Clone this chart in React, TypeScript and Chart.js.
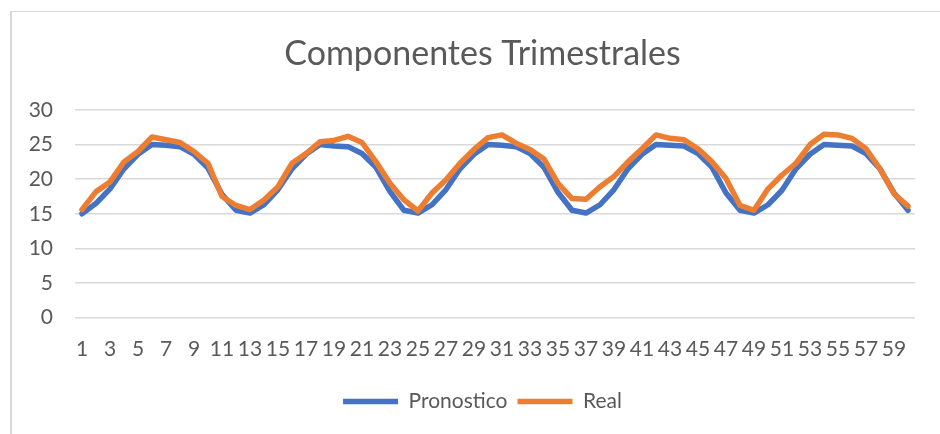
import { useEffect, useRef } from "react";
import { Chart, registerables } from "chart.js";

Chart.register(...registerables);

const categories = [
  "1", "2", "3", "4", "5", "6", "7", "8", "9", "10",
  "11", "12", "13", "14", "15", "16", "17", "18", "19", "20",
  "21", "22", "23", "24", "25", "26", "27", "28", "29", "30",
  "31", "32", "33", "34", "35", "36", "37", "38", "39", "40",
  "41", "42", "43", "44", "45", "46", "47", "48", "49", "50",
  "51", "52", "53", "54", "55", "56", "57", "58", "59", "60",
];

const pronostico = [
  15.0, 16.5, 18.6, 21.5, 23.6, 25.0, 24.9, 24.7, 23.6, 21.6, 17.8, 15.5,
  15.1, 16.3, 18.5, 21.5, 23.6, 25.0, 24.8, 24.7, 23.7, 21.7, 18.2, 15.5,
  15.1, 16.3, 18.5, 21.5, 23.6, 25.0, 24.9, 24.7, 23.7, 21.7, 18.1, 15.5,
  15.1, 16.3, 18.5, 21.5, 23.6, 25.0, 24.9, 24.8, 23.7, 21.7, 18.0, 15.5,
  15.1, 16.3, 18.4, 21.5, 23.6, 25.0, 24.9, 24.8, 23.7, 21.5, 18.0, 15.5,
];

const real = [
  15.6, 18.2, 19.6, 22.5, 24.0, 26.1, 25.7, 25.3, 24.0, 22.3, 17.5, 16.2,
  15.6, 17.0, 18.9, 22.3, 23.7, 25.4, 25.6, 26.2, 25.3, 22.5, 19.4, 17.0,
  15.4, 18.0, 19.9, 22.3, 24.3, 26.0, 26.4, 25.2, 24.3, 22.9, 19.4, 17.2,
  17.1, 18.9, 20.4, 22.5, 24.4, 26.4, 25.9, 25.7, 24.4, 22.5, 20.1, 16.2,
  15.5, 18.6, 20.6, 22.3, 25.0, 26.5, 26.4, 25.9, 24.4, 21.5, 17.9, 16.1,
];

const yTicks = [0, 5, 10, 15, 20, 25, 30];

const TEXT = "#595959";
const FONT = "Lato";

export default function App() {
  const ref = useRef<HTMLCanvasElement>(null);

  useEffect(() => {
    if (!ref.current) return;
    const chart = new Chart(ref.current, {
      type: "line",
      data: {
        labels: categories,
        datasets: [
          {
            label: "Pronostico",
            data: pronostico,
            borderColor: "#4472C4",
            backgroundColor: "#4472C4",
            borderWidth: 5.5,
            pointRadius: 0,
            tension: 0,
            borderJoinStyle: "round",
            borderCapStyle: "round",
            order: 1,
          },
          {
            label: "Real",
            data: real,
            borderColor: "#ED7D31",
            backgroundColor: "#ED7D31",
            borderWidth: 5.5,
            pointRadius: 0,
            tension: 0,
            borderJoinStyle: "round",
            borderCapStyle: "round",
            order: 0,
          },
        ],
      },
      options: {
        animation: false,
        responsive: false,
        events: [],
        layout: { padding: { left: 50, right: 25, top: 0, bottom: 12 } },
        plugins: {
          title: {
            display: true,
            text: "Componentes Trimestrales",
            color: TEXT,
            font: { family: FONT, size: 34, weight: "normal", lineHeight: 1.2 },
            padding: { top: 34, bottom: 35.2 },
          },
          legend: {
            position: "bottom",
            labels: {
              usePointStyle: true,
              pointStyle: "line",
              pointStyleWidth: 55,
              color: TEXT,
              font: { family: FONT, size: 21 },
              padding: 10,
              sort: (a: any, b: any) => a.datasetIndex - b.datasetIndex,
            },
          },
          tooltip: { enabled: false },
        },
        scales: {
          x: {
            offset: true,
            grid: { display: false },
            border: { display: false },
            ticks: {
              autoSkip: false,
              maxRotation: 0,
              minRotation: 0,
              color: TEXT,
              font: { family: FONT, size: 21 },
              padding: 11,
              callback: (_v: any, i: number) => (i % 2 === 0 ? categories[i] : ""),
            },
            afterFit: (s: any) => {
              s.height = 63.5;
            },
          },
          y: {
            min: 0,
            max: 30,
            afterBuildTicks: (s: any) => {
              s.ticks = yTicks.map((v) => ({ value: v }));
            },
            grid: { color: "#d9d9d9", lineWidth: 1.5, drawTicks: false },
            border: { display: false },
            ticks: {
              color: TEXT,
              font: { family: FONT, size: 21 },
              padding: 22,
            },
            afterFit: (s: any) => {
              s.width = 25;
              s._computeLabelArea = () => undefined;
            },
          },
        },
      },
    });
    return () => chart.destroy();
  }, []);

  return (
    <div
      style={{
        position: "fixed",
        left: 0,
        top: 0,
        width: 940,
        height: 434,
        overflow: "hidden",
        background: "#fff",
      }}
    >
      <div
        style={{
          position: "absolute",
          left: 10,
          top: 11,
          right: 0,
          bottom: 0,
          borderLeft: "2px solid #d9d9d9",
          borderTop: "1.5px solid #d9d9d9",
        }}
      />
      <canvas
        ref={ref}
        width={940}
        height={434}
        style={{ position: "absolute", left: 0, top: 0 }}
      />
    </div>
  );
}
